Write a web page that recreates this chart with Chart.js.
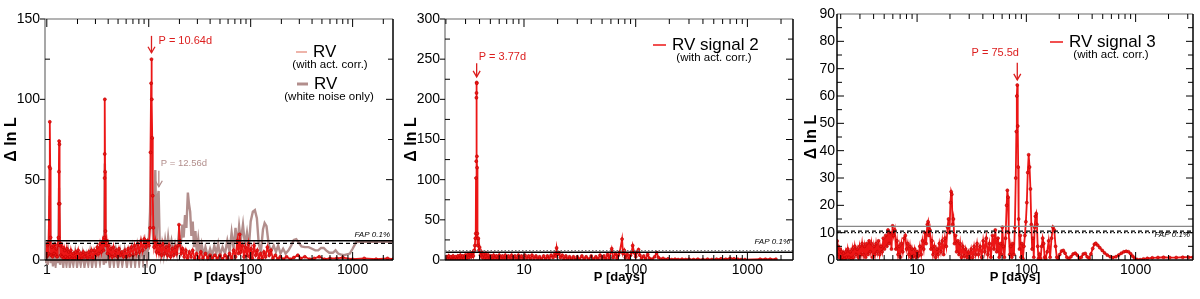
<!DOCTYPE html>
<html>
<head>
<meta charset="utf-8">
<script src="https://cdn.jsdelivr.net/npm/chart.js@4/dist/chart.umd.min.js"></script>
<style>
  html, body { margin: 0; padding: 0; background: #fff; }
  #wrap { display: flex; width: 1200px; height: 299px; }
  canvas { display: block; }
</style>
</head>
<body>
<div id="wrap">
  <canvas id="p1" width="400" height="299"></canvas>
  <canvas id="p2" width="400" height="299"></canvas>
  <canvas id="p3" width="400" height="299"></canvas>
</div>
<script>
// ---- data: [period (days), delta ln L] ----
const rvCorr = [[0.97,4],[0.99,10],[1.0,2],[1.01,9],[1.02,3],[1.03,10],[1.04,4],[1.05,11],[1.06,58],[1.07,86],[1.08,57],[1.09,14],[1.1,3],[1.12,8],[1.14,2],[1.16,9],[1.18,4],[1.2,10],[1.22,3],[1.24,7],[1.26,2],[1.28,9],[1.3,14],[1.31,35],[1.315,55],[1.32,74],[1.33,72],[1.34,35],[1.35,9],[1.37,3],[1.39,10],[1.41,2],[1.44,8],[1.47,1],[1.5,6],[1.53,2],[1.57,7],[1.6,1],[1.64,5],[1.68,2],[1.72,6],[1.77,1],[1.82,4],[1.87,1],[1.92,5],[1.97,2],[2.03,6],[2.09,1],[2.15,4],[2.21,1],[2.28,5],[2.35,2],[2.42,4],[2.5,1],[2.58,5],[2.66,2],[2.75,6],[2.84,1],[2.93,6],[3.03,3],[3.13,8],[3.23,4],[3.33,10],[3.43,5],[3.52,11],[3.6,6],[3.66,14],[3.69,51],[3.7,66],[3.71,100],[3.73,55],[3.76,18],[3.8,9],[3.86,12],[3.93,4],[4.03,9],[4.13,3],[4.25,7],[4.38,2],[4.51,8],[4.65,3],[4.8,6],[4.95,2],[5.11,7],[5.28,3],[5.46,5],[5.65,2],[5.85,6],[6.06,2],[6.28,7],[6.51,3],[6.75,8],[7.0,3],[7.26,9],[7.53,4],[7.81,10],[8.1,5],[8.4,12],[8.71,6],[9.03,13],[9.36,8],[9.7,12],[10.05,9],[10.3,20],[10.4,67],[10.55,110],[10.64,125],[10.72,100],[10.82,76],[10.95,40],[11.1,20],[11.3,8],[11.6,12],[11.9,5],[12.2,10],[12.6,4],[13.0,9],[13.4,3],[13.8,10],[14.3,4],[14.8,8],[15.3,3],[15.8,9],[16.4,2],[17.0,7],[17.6,3],[18.2,8],[18.8,4],[19.4,9],[19.8,22],[20.2,12],[20.8,4],[21.5,7],[22.3,2],[23.1,6],[24,1],[25,5],[26,2],[27,6],[28.2,1],[29.5,4],[31,1],[32.5,5],[34,1],[36,4],[38,1],[40,3],[42,1],[44.5,3],[47,1],[50,3],[53,0.5],[56,3],[59,1],[62,4],[65,1],[68,6],[71,2],[74,12],[76,4],[78,16],[80,5],[83,9],[86,2],[89,8],[92,3],[95,10],[98,2],[101,7],[104,1],[108,9],[112,3],[116,6],[120,1],[125,4],[130,1],[135,5],[140,2],[146,8],[152,3],[158,6],[165,1],[175,3],[185,0.5],[195,2],[210,0.5],[225,2],[245,0.5],[265,1.5],[290,3],[310,1],[340,2],[380,0.5],[420,1],[470,2],[530,0.5],[600,1],[700,1],[800,1.5],[1000,0.5],[1300,1],[1700,0.5],[2200,1],[2490,0.5]];

const rvWhite = [[0.97,-2],[1.0,5],[1.02,-3],[1.04,4],[1.07,40],[1.09,-2],[1.12,6],[1.15,-4],[1.18,5],[1.22,-3],[1.26,6],[1.29,-2],[1.32,45],[1.35,-3],[1.4,5],[1.45,-4],[1.5,4],[1.56,-3],[1.62,5],[1.68,-4],[1.75,3],[1.82,-3],[1.9,5],[1.98,-4],[2.06,3],[2.15,-3],[2.24,4],[2.34,-4],[2.44,3],[2.55,-3],[2.66,5],[2.78,-4],[2.9,4],[3.03,-3],[3.17,6],[3.32,-2],[3.48,7],[3.63,-3],[3.71,60],[3.8,-2],[3.95,6],[4.15,-4],[4.35,5],[4.55,-3],[4.75,6],[5.0,-4],[5.25,5],[5.5,-3],[5.8,6],[6.1,-4],[6.4,5],[6.7,-3],[7.0,7],[7.35,-3],[7.7,8],[8.05,-2],[8.4,9],[8.8,-1],[9.2,10],[9.6,0],[10.0,12],[10.3,30],[10.6,70],[10.9,20],[11.2,8],[11.6,56],[11.9,10],[12.3,40],[12.5,43],[12.8,12],[13.1,4],[13.5,10],[14,3],[14.5,12],[15,5],[15.5,14],[16,6],[16.7,12],[17.4,5],[18.1,10],[18.9,4],[19.7,16],[20.5,8],[21.3,22],[22,14],[22.7,28],[23.4,20],[24.2,42],[24.8,35],[25.5,30],[26.2,15],[27,24],[27.8,8],[28.7,18],[29.6,5],[30.6,13],[31.7,4],[33,10],[34.5,3],[36,8],[38,2],[40,7],[42,3],[44,9],[46,4],[48,10],[50,3],[53,8],[56,4],[59,12],[62,5],[65,17],[68,7],[71,20],[74,9],[77,21],[80,12],[84,22],[88,9],[92,17],[96,8],[100,24],[105,30],[110,31],[115,26],[120,10],[126,5],[132,19],[137,23],[143,21],[150,10],[158,5],[168,9],[177,5],[186,9],[196,4],[208,7],[220,4],[235,6],[250,9],[265,12.5],[280,13],[295,11],[315,8.5],[340,8],[370,8],[400,7],[430,6],[460,6],[490,7.5],[520,7.5],[550,6],[590,4.5],[640,4.5],[680,6],[720,4],[760,3.5],[820,3],[880,3.5],[940,4],[1000,7],[1080,11],[1200,11.4],[1500,11.4],[1900,11.4],[2490,11.4]];

const rvSignal2 = [[1.96,3],[2.0,0.5],[2.04,4],[2.08,1],[2.12,5],[2.17,1],[2.22,4],[2.27,0.5],[2.32,5],[2.38,1],[2.44,4],[2.5,1],[2.56,5],[2.62,2],[2.69,6],[2.76,1],[2.83,5],[2.9,2],[2.98,6],[3.06,2],[3.14,7],[3.22,3],[3.3,8],[3.38,4],[3.46,9],[3.52,5],[3.58,12],[3.63,18],[3.67,27],[3.7,33],[3.72,102],[3.74,123],[3.75,202],[3.76,208],[3.77,221],[3.78,220],[3.79,129],[3.8,115],[3.82,33],[3.85,18],[3.9,27],[3.95,12],[4.0,16],[4.08,6],[4.16,10],[4.25,3],[4.35,7],[4.45,2],[4.56,8],[4.68,2],[4.8,6],[4.93,1],[5.06,5],[5.2,1],[5.35,6],[5.5,2],[5.66,5],[5.83,1],[6.0,6],[6.2,2],[6.4,5],[6.6,1],[6.8,6],[7.0,2],[7.25,5],[7.5,1],[7.75,6],[8.0,2],[8.3,5],[8.6,1],[8.9,6],[9.2,2],[9.5,5],[9.85,1],[10.2,6],[10.6,2],[11,5],[11.4,1],[11.8,6],[12.3,2],[12.8,5],[13.3,1],[13.8,4],[14.4,1],[15,5],[15.6,1],[16.2,5],[16.8,2],[17.5,6],[18.2,3],[18.9,8],[19.3,5],[19.6,15],[20,7],[20.6,9],[21.2,3],[22,6],[22.8,1],[23.7,5],[24.6,1],[25.6,4],[26.6,1],[27.7,4],[28.8,0.5],[30,4],[31.5,1],[33,5],[34.5,1],[36,4],[38,1],[40,5],[42,1],[44,4],[46,1],[48,6],[50,2],[52,5],[54,1],[56,7],[58,2],[61,14],[63,3],[66,8],[68,2],[70,6],[72,10],[75.5,26],[77,8],[79,12],[81,3],[84,7],[87,1],[90,6],[92,10],[94,18],[97,9],[100,4],[103,10],[106,13],[109,6],[113,2],[118,5],[123,1],[128,7],[133,2],[140,1],[148,4],[154,9],[160,3],[168,1],[176,2],[185,0.5],[195,1.5],[210,0.5],[225,1],[240,0.5],[260,1],[280,0.5],[300,1],[330,0.5],[360,1],[400,0.5],[440,1],[480,0.5],[530,1],[580,1.5],[640,1],[700,2],[760,1.5],[820,1],[880,0.5],[950,0.5],[1300,1],[1450,1],[1600,1],[1800,1]];

const rvSignal3 = [[1.85,7],[1.87,2],[1.9,5],[1.93,1],[1.97,4],[2.0,0.5],[2.04,3],[2.08,1],[2.12,2.5],[2.17,0.5],[2.22,3],[2.27,1],[2.32,4],[2.38,1],[2.44,3],[2.5,0.5],[2.56,4],[2.62,1],[2.69,5],[2.76,2],[2.83,4],[2.9,1],[2.98,5],[3.06,2],[3.14,6],[3.22,2],[3.3,5],[3.38,1],[3.46,6],[3.55,2],[3.64,7],[3.73,3],[3.82,6],[3.92,1],[4.02,5],[4.12,2],[4.22,6],[4.33,3],[4.44,7],[4.55,2],[4.67,5],[4.79,3],[4.91,8],[5.03,4],[5.16,9],[5.29,5],[5.42,11],[5.55,6],[5.69,10],[5.83,4],[5.97,12.5],[6.1,9],[6.25,11],[6.4,4],[6.55,7],[6.7,2],[6.86,5],[7.02,1],[7.2,6],[7.4,3],[7.6,8],[7.8,9],[8.0,4],[8.2,6],[8.4,2],[8.6,5],[8.8,1],[9.0,4],[9.25,1.5],[9.5,4],[9.75,1],[10,3],[10.3,1.5],[10.6,5],[10.9,2],[11.2,7],[11.5,4],[11.8,10],[12.1,6],[12.4,13],[12.6,14],[12.8,9],[13.1,11],[13.4,4],[13.7,7],[14,2],[14.4,5],[14.8,1],[15.2,4],[15.6,2],[16,6],[16.5,3],[17,7],[17.5,2],[18,8],[18.5,5],[19,12],[19.4,15],[19.8,10],[20.2,21],[20.5,25],[20.8,24],[21.1,13],[21.5,15],[22,6],[22.5,9],[23,3],[23.6,7],[24.2,2],[24.8,6],[25.5,1],[26.2,5],[27,1.5],[27.8,4],[28.6,1],[29.5,3],[30.4,0.5],[31.3,4],[32.3,1],[33.3,5],[34.3,2],[35.4,6],[36.5,2],[37.7,5],[39,1],[40.3,7],[41.6,3],[43,8],[44.4,2],[45.9,6],[47.4,1],[49,9],[50.5,4],[52,11],[53.5,3],[55,8],[56.5,1],[58,6],[59.3,2],[60.3,12],[61.5,5],[63,1],[64.5,8],[66,20],[67,25.5],[68,23],[69,10],[70.5,2],[72,5],[73.5,1],[75,6],[77,2],[78.5,12],[80,30],[81,47],[81.8,60],[82.6,64],[83.4,49],[84.2,34],[85,15],[86.5,4],[88,9],[89.5,1],[91,6],[93,0.5],[95,5],[97,9],[99,14],[101,21],[103,32],[105,38.5],[107,34],[109,26],[111,13],[113,4],[115,8],[117,1],[119,12],[121,16],[123,17],[125,13],[127,5],[129,0.5],[132,2],[135,0.5],[138,5],[141,8],[144,6],[147,1],[150,0.5],[155,3],[160,7],[165,1],[170,8],[175,12],[180,11],[185,5],[190,1],[195,0.5],[202,2],[210,3.3],[218,3.5],[226,2.5],[235,1],[245,0.5],[256,1.2],[268,2.2],[280,2.5],[292,1.8],[305,0.7],[318,1],[332,2.2],[346,2.4],[360,1.2],[375,0.6],[390,2.2],[405,4.2],[420,5.8],[432,6.1],[450,5.4],[470,4.5],[495,3.5],[520,2.6],[550,1.8],[585,1.2],[620,0.9],[660,1.2],[700,1.8],[740,2.5],[780,3],[820,3.2],[860,3],[900,2.3],[940,1.4],[980,0.6],[1030,0.2],[1100,0.1],[1180,0.4],[1280,0.6],[1420,0.8],[1600,0.9],[1800,1],[2050,0.9],[2350,0.9],[2700,1],[3050,1],[3350,1]];

// FAP 0.1% levels per panel
const fapPanel1 = [12, 10.3];
const fapPanel2 = [11.6, 9.6];
const fapPanel3 = [12.3, 10.6, 10.0];

const RED = 'rgb(236,22,22)';
const GREY = 'rgb(178,142,140)';
const PINK = 'rgb(238,180,170)';
const FONT = '"Liberation Sans", Arial, Helvetica, sans-serif';

function pts(arr) { return arr.map(([x, y]) => ({ x, y })); }

function isDecade(v) {
  const l = Math.log10(v);
  return Math.abs(l - Math.round(l)) < 1e-9;
}

function seg(ctx, x0, y0, x1, y1) {
  ctx.beginPath(); ctx.moveTo(x0, y0); ctx.lineTo(x1, y1); ctx.stroke();
}

// frame, inward ticks, legend text, arrows
const deco = {
  id: 'deco',
  afterDatasetsDraw(chart, args, o) {
    const ctx = chart.ctx;
    const { left, right, top, bottom } = chart.chartArea;
    const xs = chart.scales.x, ys = chart.scales.y;
    ctx.save();
    ctx.lineWidth = 1.5;
    ctx.strokeStyle = '#9a9a9a';
    seg(ctx, left, top, right, top);
    ctx.strokeStyle = o.leftColor;
    seg(ctx, left, top, left, bottom);
    ctx.strokeStyle = '#000';
    seg(ctx, right, top, right, bottom);
    seg(ctx, left, bottom, right, bottom);

    ctx.lineWidth = 1;
    for (let d = Math.floor(Math.log10(xs.min)); d <= Math.ceil(Math.log10(xs.max)); d++) {
      for (let k = 1; k <= 9; k++) {
        const v = k * Math.pow(10, d);
        if (v < xs.min || v > xs.max) continue;
        const px = xs.getPixelForValue(v);
        const len = k === 1 ? 8 : 5;
        seg(ctx, px, top, px, top + len);
        seg(ctx, px, bottom, px, bottom - len);
      }
    }
    const half = o.yStep / 2;
    for (let i = 1; i * half < ys.max; i++) {
      const py = ys.getPixelForValue(i * half);
      const major = i % 2 === 0;
      if (major && !o.ticksIn) seg(ctx, left - 5, py, left, py);
      else seg(ctx, left, py, left + (major ? 7 : 5), py);
      seg(ctx, right, py, right - (major ? 7 : 5), py);
    }
    if (!o.ticksIn) {
      seg(ctx, left - 5, bottom, left, bottom);
      seg(ctx, left - 5, top, left, top);
    }

    // FAP label
    ctx.fillStyle = '#000';
    ctx.font = 'italic 8px ' + FONT;
    ctx.textAlign = 'right';
    ctx.textBaseline = 'middle';
    ctx.fillText('FAP 0.1%', right - 3, o.fapY);

    // legend
    (o.legend || []).forEach(e => {
      ctx.strokeStyle = e.color;
      ctx.lineWidth = e.lw;
      seg(ctx, e.x, e.y, e.x + e.len, e.y);
      ctx.fillStyle = '#000';
      ctx.font = '17px ' + FONT;
      ctx.textAlign = 'left';
      ctx.textBaseline = 'middle';
      ctx.fillText(e.label, e.x + e.len + 6, e.y);
      ctx.font = '11.5px ' + FONT;
      ctx.textAlign = 'center';
      ctx.fillText(e.sub, e.subX, e.y + 13);
    });

    // period arrows
    (o.marks || []).forEach(m => {
      const px = xs.getPixelForValue(m.p);
      const y0 = ys.getPixelForValue(m.from), y1 = ys.getPixelForValue(m.to);
      ctx.strokeStyle = m.color;
      ctx.lineWidth = 1.3;
      seg(ctx, px, y0, px, y1);
      ctx.beginPath();
      ctx.moveTo(px - 3.5, y1 - 6); ctx.lineTo(px, y1); ctx.lineTo(px + 3.5, y1 - 6);
      ctx.stroke();
      ctx.fillStyle = m.color;
      ctx.font = m.size + 'px ' + FONT;
      ctx.textAlign = m.align;
      ctx.textBaseline = 'middle';
      ctx.fillText(m.text, px + m.dx, y0 + m.dy);
    });
    ctx.restore();
  }
};

function redSet(arr) {
  return {
    data: pts(arr), borderColor: RED, borderWidth: 1.8,
    pointRadius: 1.5, pointBackgroundColor: RED, pointBorderColor: 'rgb(190,0,0)', pointBorderWidth: 0.6,
    order: 1
  };
}

function levelSet(v, xmin, xmax, color, dash, lw) {
  return {
    data: [{ x: xmin, y: v }, { x: xmax, y: v }], borderColor: color, borderWidth: lw,
    borderDash: dash, pointRadius: 0, order: 0
  };
}

function decadeTicks(scale) {
  const t = [];
  for (let d = Math.ceil(Math.log10(scale.min)); Math.pow(10, d) <= scale.max; d++) {
    t.push({ value: Math.pow(10, d) });
  }
  scale.ticks = t;
}

function makePanel(id, c) {
  new Chart(document.getElementById(id), {
    type: 'line',
    data: { datasets: c.datasets },
    options: {
      responsive: false, animation: false, events: [],
      layout: { padding: { left: 0, right: 7, top: c.top, bottom: 0 } },
      plugins: { legend: { display: false }, tooltip: { enabled: false }, deco: c.deco },
      scales: {
        x: {
          type: 'logarithmic', min: c.xmin, max: c.xmax,
          grid: { display: false, drawTicks: false }, border: { display: false },
          afterBuildTicks: decadeTicks,
          ticks: {
            autoSkip: false, maxRotation: 0, padding: 2, color: '#000',
            font: { family: FONT, size: 14 },
            callback: v => isDecade(v) ? String(Math.round(v)) : ''
          },
          title: {
            display: true, text: 'P [days]', color: '#000',
            font: { family: FONT, size: 13, weight: 'bold' }, padding: { top: 0, bottom: 14 }
          },
          afterFit: s => { s.height = 39; }
        },
        y: {
          min: 0, max: c.ymax,
          grid: { display: false, drawTicks: false }, border: { display: false },
          ticks: { stepSize: c.deco.yStep, autoSkip: false, padding: c.labelPad, color: '#000', font: { family: FONT, size: 14 } },
          title: {
            display: true, text: 'Δ ln L', color: '#000',
            font: { family: FONT, size: 16, weight: 'bold' }, padding: { top: 2, bottom: 0 }
          },
          afterFit: s => { s.width = c.left; }
        }
      }
    },
    plugins: [deco]
  });
}

// panel 1
makePanel('p1', {
  xmin: 0.96, xmax: 2490, ymax: 150, top: 19, left: 45, labelPad: 5,
  datasets: [
    levelSet(fapPanel1[0], 0.96, 2490, '#000', [], 1.5),
    levelSet(fapPanel1[1], 0.96, 2490, '#000', [4, 3], 1.2),
    redSet(rvCorr),
    { data: pts(rvWhite), borderColor: GREY, borderWidth: 2.4, pointRadius: 0, order: 2,
      clip: { left: 0, top: 0, right: 0, bottom: 8 } }
  ],
  deco: {
    yStep: 50, leftColor: '#8a8a8a', fapY: 235,
    legend: [
      { label: 'RV', sub: '(with act. corr.)', color: PINK, lw: 2, x: 296, len: 11, y: 52, subX: 330 },
      { label: 'RV', sub: '(white noise only)', color: GREY, lw: 3, x: 297, len: 11, y: 84, subX: 329 }
    ],
    marks: [
      { p: 10.64, from: 139.5, to: 129, color: 'rgb(220,30,30)', text: 'P = 10.64d', size: 11, align: 'left', dx: 7, dy: 5 },
      { p: 12.56, from: 55.6, to: 45.6, color: GREY, text: 'P = 12.56d', size: 9.5, align: 'left', dx: 2, dy: -7 }
    ]
  }
});

// panel 2
makePanel('p2', {
  xmin: 1.963, xmax: 2560, ymax: 300, top: 19, left: 45, labelPad: 5,
  datasets: [
    levelSet(fapPanel2[0], 1.963, 2560, '#777', [1.5, 2], 1.2),
    levelSet(fapPanel2[1], 1.963, 2560, '#000', [], 1.5),
    redSet(rvSignal2)
  ],
  deco: {
    yStep: 50, leftColor: '#8a8a8a', fapY: 242,
    legend: [
      { label: 'RV signal 2', sub: '(with act. corr.)', color: RED, lw: 1.5, x: 253, len: 13, y: 45, subX: 314 }
    ],
    marks: [
      { p: 3.77, from: 245, to: 228, color: 'rgb(220,30,30)', text: 'P = 3.77d', size: 11, align: 'left', dx: 2, dy: -6 }
    ]
  }
});

// panel 3
makePanel('p3', {
  xmin: 1.85, xmax: 3350, ymax: 90, top: 14, left: 37, labelPad: 2,
  datasets: [
    levelSet(fapPanel3[0], 1.85, 3350, '#888', [], 1.2),
    levelSet(fapPanel3[1], 1.85, 3350, '#000', [4, 3], 1.3),
    levelSet(fapPanel3[2], 1.85, 3350, '#000', [1.5, 2], 1.3),
    redSet(rvSignal3)
  ],
  deco: {
    yStep: 10, leftColor: '#000', fapY: 235, ticksIn: true,
    legend: [
      { label: 'RV signal 3', sub: '(with act. corr.)', color: RED, lw: 1.5, x: 250, len: 13, y: 42, subX: 311 }
    ],
    marks: [
      { p: 82.6, from: 72.2, to: 65.9, color: 'rgb(220,30,30)', text: 'P = 75.5d', size: 11, align: 'center', dx: -22, dy: -10 }
    ]
  }
});
</script>
</body>
</html>
